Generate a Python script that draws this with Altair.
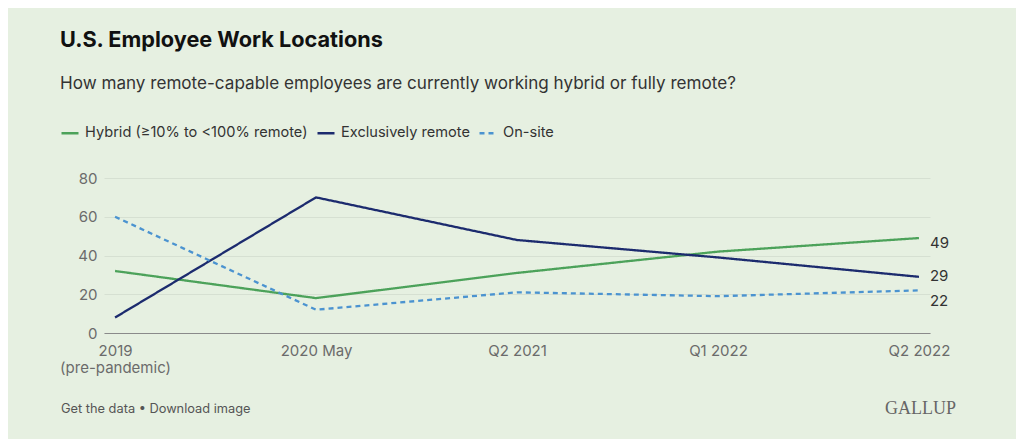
import altair as alt
import pandas as pd

# ---- data ----
periods = ["2019 (pre-pandemic)", "2020 May", "Q2 2021", "Q1 2022", "Q2 2022"]
series_names = ["Hybrid (≥10% to <100% remote)", "Exclusively remote", "On-site"]
hybrid = [32, 18, 31, 42, 49]
remote = [8, 70, 48, 39, 29]
onsite = [60, 12, 21, 19, 22]
series_colors = ["#4ca25a", "#1c2b6e", "#4b93d0"]
series_dashes = [[1, 0], [1, 0], [5, 4]]
end_label_shift = [-2.5, 0.5, -5.5]  # label position shift in data units to avoid overlap
y_ticks = [0, 20, 40, 60, 80]

title_text = ["U.S. Employee Work Locations"]
subtitle_text = ["How many remote-capable employees are currently working hybrid or fully remote?"]
footer_text = ["Get the data • Download image"]
brand_text = ["GALLUP"]

FONT = "Inter"
BG = "#e6f0e1"

rows = []
for name, vals in zip(series_names, [hybrid, remote, onsite]):
    for p, v in zip(periods, vals):
        rows.append({"period": p, "series": name, "value": v})
df = pd.DataFrame(rows)

last = pd.DataFrame({
    "period": [periods[-1]] * 3,
    "series": series_names,
    "value": [hybrid[-1], remote[-1], onsite[-1]],
    "shift": end_label_shift,
})

legend = alt.Legend(
    orient="none", legendX=-44, legendY=-55, direction="horizontal", title=None,
    symbolType="stroke", symbolSize=289, symbolStrokeWidth=2.5,
    labelFont=FONT, labelFontSize=14.6, labelColor="#333333",
    labelOffset=5, columnPadding=4, labelLimit=400,
)

x_axis = alt.Axis(
    labelAngle=0, ticks=False, grid=False, domainColor="#8a8a8a", domainWidth=1.2,
    labelFont=FONT, labelFontSize=15, labelColor="#6b6b6b", labelPadding=10,
    labelLineHeight=17, labelBaseline="top",
    labelExpr="datum.value == '2019 (pre-pandemic)' ? ['2019', '(pre-pandemic)'] : datum.value",
)
y_axis = alt.Axis(
    values=y_ticks, ticks=False, domain=False, labelOverlap=False,
    gridColor="#d6e0d2", gridWidth=1,
    labelFont=FONT, labelFontSize=15, labelColor="#6b6b6b", labelPadding=7,
)
x_scale = alt.Scale(type="point", domain=periods, padding=0.055)
y_scale = alt.Scale(domain=[0, 80], nice=False)

lines = alt.Chart(df).mark_line(strokeWidth=2.3).encode(
    x=alt.X("period:N", sort=periods, title=None, scale=x_scale, axis=x_axis),
    y=alt.Y("value:Q", title=None, scale=y_scale, axis=y_axis),
    color=alt.Color("series:N", sort=series_names,
                    scale=alt.Scale(domain=series_names, range=series_colors),
                    legend=legend),
    strokeDash=alt.StrokeDash("series:N", sort=series_names,
                              scale=alt.Scale(domain=series_names, range=series_dashes),
                              legend=legend),
)

end_labels = alt.Chart(last).transform_calculate(
    lbl="format(datum.value, 'd')",
    pos="datum.value + datum.shift",
).mark_text(align="left", baseline="middle", dx=11, font=FONT, fontSize=15, color="#333333").encode(
    x=alt.X("period:N", sort=periods, title=None, scale=x_scale, axis=x_axis),
    y=alt.Y("pos:Q", title=None, scale=y_scale, axis=y_axis),
    text="lbl:N",
)

def text_layer(values, x, y, **kw):
    return alt.Chart(pd.DataFrame({"t": values})).mark_text(align="left", baseline="alphabetic", **kw).encode(
        text="t:N", x=alt.value(x), y=alt.value(y)
    )

title = text_layer(title_text, -44, -131, font=FONT, fontSize=21.7, fontWeight="bold", color="#111111")
subtitle = text_layer(subtitle_text, -44, -89, font=FONT, fontSize=17.1, color="#333333")
footer = text_layer(footer_text, -43, 235, font=FONT, fontSize=12.8, color="#555555")
brand = text_layer(brand_text, 781, 236, font="Liberation Serif", fontSize=18, color="#666666")

chart = alt.layer(lines, end_labels, title, subtitle, footer, brand).properties(
    width=826, height=155,
    padding={"left": 96, "top": 170, "right": 86, "bottom": 106},
    autosize=alt.AutoSizeParams(type="none"),
    background=BG,
).configure_view(stroke=None)

chart.save("out.html", embed_options={"renderer": "svg", "actions": False})
